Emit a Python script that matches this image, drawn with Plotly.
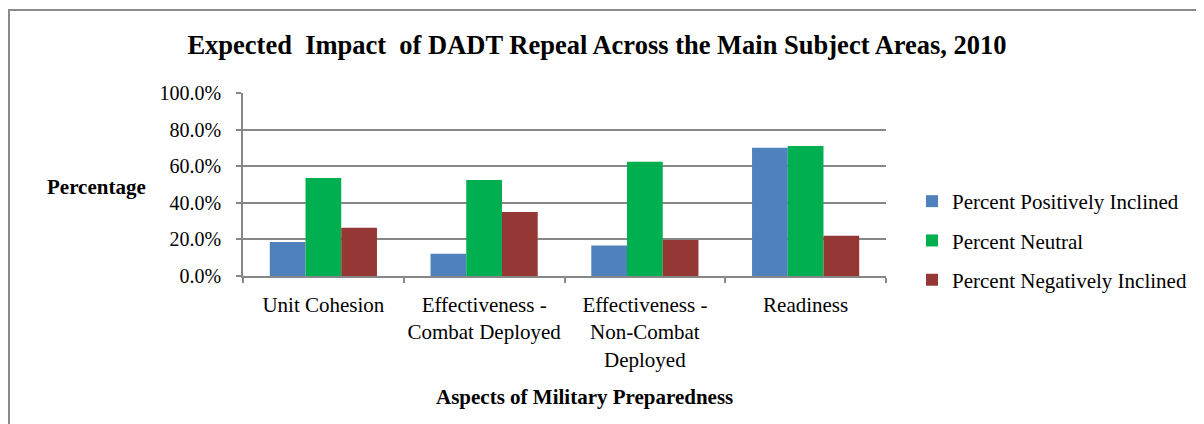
import plotly.graph_objects as go

categories = ["Unit Cohesion", "Effectiveness -<br>Combat Deployed",
              "Effectiveness -<br>Non-Combat<br>Deployed", "Readiness"]
series_names = ["Percent Positively Inclined", "Percent Neutral", "Percent Negatively Inclined"]
positive = [0.186, 0.122, 0.166, 0.701]
neutral = [0.536, 0.525, 0.625, 0.710]
negative = [0.264, 0.350, 0.197, 0.220]
colors = ["#4F81BD", "#00B050", "#953735"]
y_ticks = [0, 0.2, 0.4, 0.6, 0.8, 1.0]

title_text = "Expected  Impact  of DADT Repeal Across the Main Subject Areas, 2010"
y_title = "Percentage"
x_title = "Aspects of Military Preparedness"

FONT = "Liberation Serif, Times New Roman, serif"
OFF = 8  # default page body margin
W, H = 1204 - OFF, 424 - OFF
# plot area in page pixels: x 243..886, y 93..276.5
L = 243 - OFF
T = 93 - OFF
R = W - (886 - OFF)
B = H - (276 - OFF)
pw = W - L - R
ph = H - T - B

def px_x(px):
    return (px - OFF - L) / pw

def px_y(py):
    return (H - B - (py - OFF)) / ph

fig = go.Figure()
for i, (name, vals) in enumerate(zip(series_names, [positive, neutral, negative])):
    fig.add_trace(go.Bar(
        x=categories, y=vals, name=name,
        marker=dict(color=colors[i], line=dict(width=0)),
        legendgroup=f"g{i}",
    ))

grid_col = "#878787"
fig.update_layout(
    template="none",
    width=W, height=H,
    margin=dict(l=L, r=R, t=T, b=B, pad=0, autoexpand=False),
    paper_bgcolor="white", plot_bgcolor="white",
    barmode="group", bargap=1/3, bargroupgap=0,
    font=dict(family=FONT, size=21, color="#000000"),
    title=dict(text=title_text, x=(597 - OFF) / W, xref="container", xanchor="center",
               y=1 - (45 - OFF) / H, yref="container", yanchor="middle",
               font=dict(family=FONT, size=26.5, color="#000000", weight="bold")),
    showlegend=True,
    legend=dict(x=px_x(912), xanchor="left", y=px_y(181), yanchor="top",
                font=dict(family=FONT, size=21, color="#000000"),
                tracegroupgap=9, bgcolor="rgba(0,0,0,0)", borderwidth=0),
    xaxis=dict(type="category", automargin=False, showgrid=False, showline=True,
               linecolor=grid_col, linewidth=1.5, tickangle=0,
               ticks="outside", tickson="boundaries", ticklen=5, tickcolor=grid_col, tickwidth=1.5,
               tickfont=dict(family=FONT, size=21, color="#000000"), ticklabelstandoff=9),
    yaxis=dict(range=[0, 1], automargin=False, tickvals=y_ticks, tickformat=".1%", showgrid=True,
               gridcolor=grid_col, gridwidth=1.5, showline=True, linecolor=grid_col, linewidth=1.5,
               ticks="outside", ticklen=5, tickcolor=grid_col, tickwidth=1.5, zeroline=False,
               tickfont=dict(family=FONT, size=20, color="#000000"), ticklabelstandoff=11),
    annotations=[
        dict(text=f"<b>{y_title}</b>", xref="paper", yref="paper", x=px_x(96), y=px_y(187),
             xanchor="center", yanchor="middle", showarrow=False,
             font=dict(family=FONT, size=21, color="#000000")),
        dict(text=f"<b>{x_title}</b>", xref="paper", yref="paper", x=px_x(584), y=px_y(397),
             xanchor="center", yanchor="middle", showarrow=False,
             font=dict(family=FONT, size=21, color="#000000")),
    ],
    shapes=[dict(type="rect", xref="paper", yref="paper",
                 x0=px_x(9), x1=px_x(1230), y0=px_y(450), y1=px_y(10),
                 line=dict(color="#8a8a8a", width=2), fillcolor="rgba(0,0,0,0)", layer="below")],
)

fig.write_html("out.html")
